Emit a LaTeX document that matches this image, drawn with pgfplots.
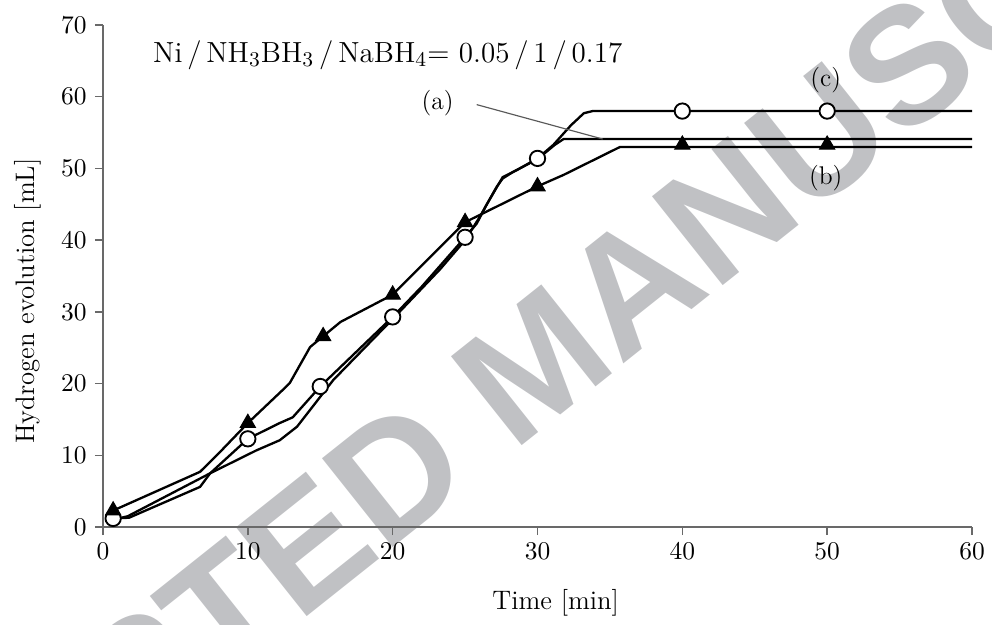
\documentclass[border=0pt]{standalone}
\usepackage{fontspec}
\usepackage{pgfplots}
\pgfplotsset{compat=1.18}
\newfontfamily\wmfont{Liberation Sans}
\definecolor{wm}{RGB}{192,193,196}
\definecolor{axgray}{RGB}{105,105,105}

\begin{document}
\begin{tikzpicture}
% watermark, behind the whole axis (axis cs 30.2,23.3 -> pt)
\node[rotate=38.5, text=wm, inner sep=0pt,
  font=\wmfont\bfseries\fontsize{71}{78}\selectfont]
  at (186pt,71pt) {ACCEPTED MANUSCRIPT};
\begin{axis}[
  at={(0,0)}, anchor=south west,
  scale only axis, width=373.7pt, height=215.9pt,
  xmin=0, xmax=60, ymin=0, ymax=70,
  xtick={0,10,...,60}, ytick={0,10,...,70},
  axis x line=bottom, axis y line=left,
  axis line style={-, axgray, line width=0.8pt},
  tick style={axgray, line width=0.6pt},
  tick align=outside, major tick length=3.5pt,
  ticklabel style={font=\fontsize{11}{13}\selectfont},
  xlabel={Time [min]}, ylabel={Hydrogen evolution [mL]},
  label style={font=\fontsize{11.5}{13}\selectfont},
  xlabel style={at={(axis description cs:0.521,-0.151)}, anchor=center},
  ylabel style={at={(axis description cs:-0.086,0.45)}, anchor=center},
  clip=false,
]
% (a) plain line
\addplot[black, line width=1pt, line join=round] coordinates {
 (0.6,1.0) (1.7,1.5) (7.4,7.5) (10.6,10.7) (12.2,12.1) (13.4,14) (15.9,20.5)
 (20,29) (23.3,36) (25,40) (26,43.2) (27.2,47.5) (27.6,48.6) (28.3,49.5)
 (30,51.3) (31.2,53.3) (31.8,54.1) (60,54.1)};
% (c) circles
\addplot[black, line width=1pt, line join=round] coordinates {
 (0.7,1.2) (1.8,1.3) (6.7,5.6) (7.4,7.5) (10,12.3) (12.2,14.5) (13.1,15.3)
 (15,19.6) (20,29.3) (22,33.5) (25,40.4) (25.8,42.3) (26.5,45) (27.6,48.8)
 (28.6,49.8) (30,51.4) (31.1,53.3) (32.3,56) (33.2,57.7) (33.8,58) (60,58)};
% (b) triangles
\addplot[black, line width=1pt, line join=round] coordinates {
 (0.7,2.3) (6.7,7.7) (8,10.3) (10,14.5) (12.4,19.1) (12.9,20.1) (14.3,25.1)
 (15.2,26.6) (16.4,28.6) (20,32.4) (25,42.5) (30,47.5) (31.8,49.1)
 (35.7,53) (60,53)};

\addplot[only marks, mark=*, mark size=3.3pt,
  mark options={fill=white, draw=black, line width=0.8pt}] coordinates {
 (0.7,1.2) (10,12.3) (15,19.6) (20,29.3) (25,40.4) (30,51.4) (40,58) (50,58)};
\addplot[only marks, mark=triangle*, mark size=3.8pt,
  mark options={fill=black, draw=black}] coordinates {
 (0.7,2.3) (10,14.5) (15.2,26.6) (20,32.4) (25,42.5) (30,47.5) (40,53.3) (50,53.3)};

% pointer and labels
\draw[gray!70!black, line width=0.5pt] (axis cs:25.8,58.9) -- (axis cs:34.5,54.1);
\node[font=\fontsize{11}{13}\selectfont] at (axis cs:23.1,59.1) {(a)};
\node[font=\fontsize{11}{13}\selectfont] at (axis cs:49.9,62.3) {(c)};
\node[font=\fontsize{11}{13}\selectfont] at (axis cs:49.9,48.7) {(b)};
\node[anchor=west, font=\fontsize{12.5}{14}\selectfont] at (axis cs:2.9,65.8)
  {Ni\,/\,NH$_3$BH$_3$\,/\,NaBH$_4${}= 0.05\,/\,1\,/\,0.17};
\end{axis}
\pgfresetboundingbox
\path (-44.3pt,-41.7pt) rectangle (382.3pt,226.65pt);
\end{tikzpicture}
\end{document}
